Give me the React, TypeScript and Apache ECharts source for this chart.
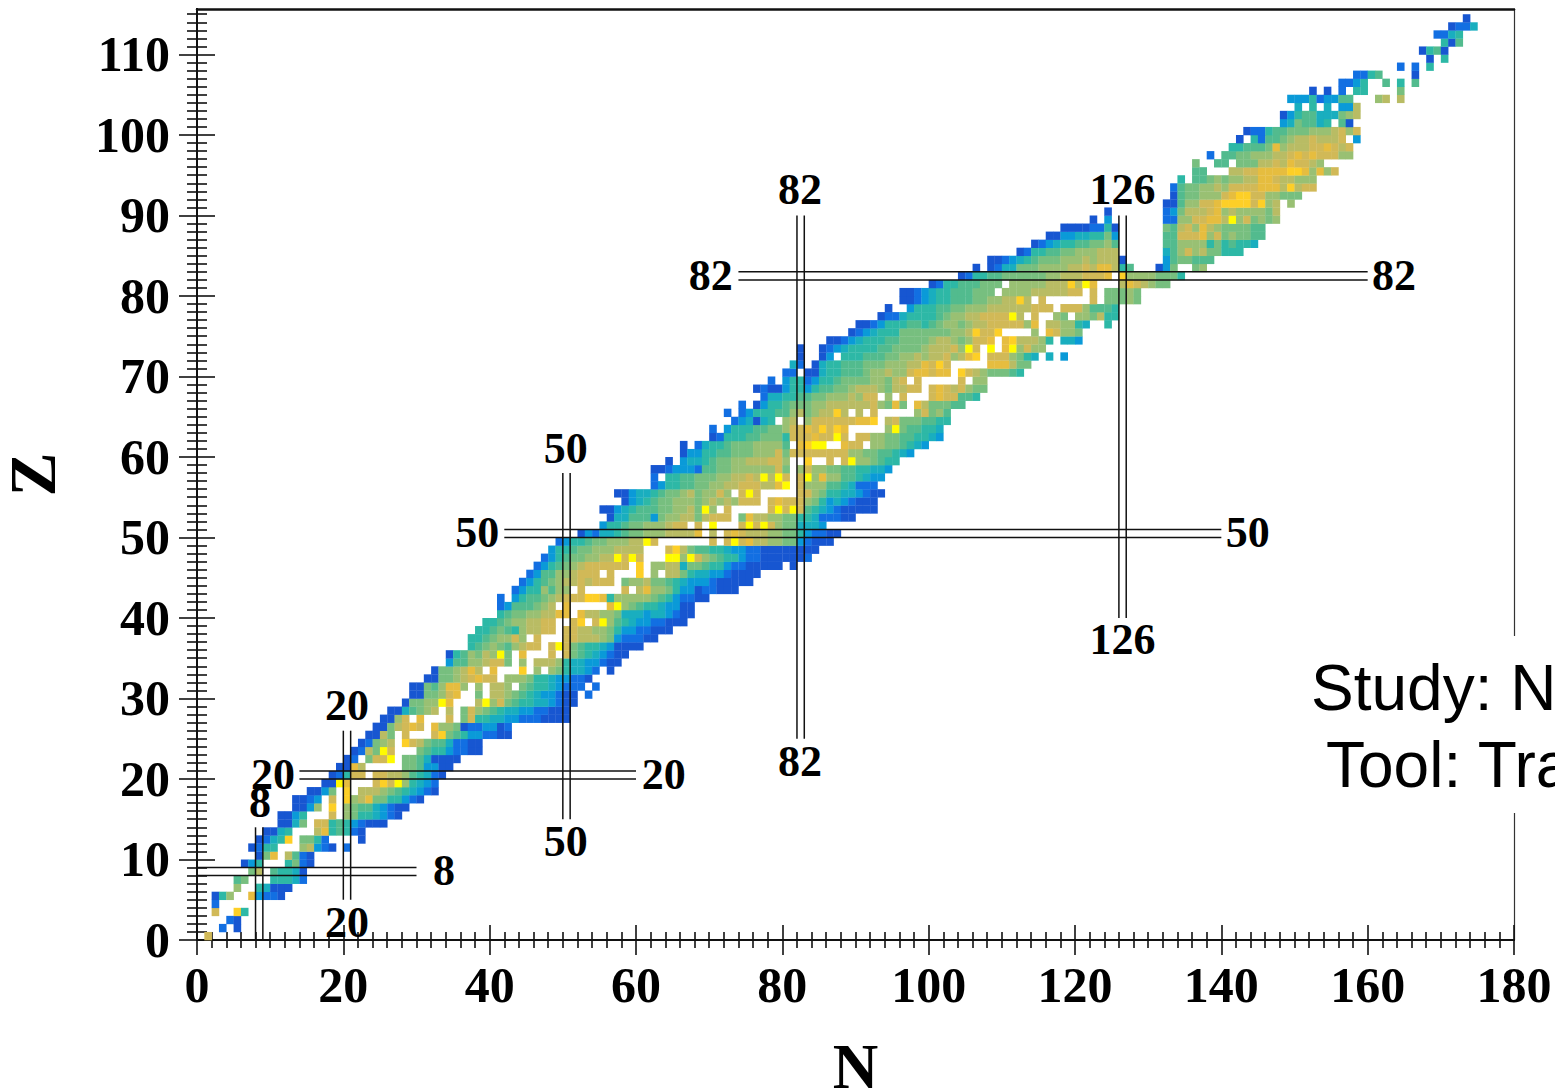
import React, { useEffect, useRef } from "react";
import * as echarts from "echarts";

// Colour levels of the picture, low (a) to high (m); "." is an empty cell.
const levelKeys = "abcdefghijklm";
const levelColors = [
  "#1756d1", "#126fe2", "#0a9ad8", "#19aebf", "#2db8a6", "#52bb8e", "#77bf7f",
  "#99c073", "#b9bc64", "#d1b957", "#e6bd3f", "#fdcf27", "#fffb00",
];

// One entry per proton number Z (index = Z): "first N:levels of N, N+1, ..."
const cellRows = [
  "1:j", "3:b.a", "4:ba", "2:j..le", "2:b", "2:aeh..kcbba", "5:h..edaaa", "5:fg...eeedb",
  "7:gi.feeda", "6:ace...egba", "8:agk.ifba", "7:abee...hicba.b", "8:abdel.ggeb....a",
  "9:aade...ikefeba", "11:aadg.jjefecbaaa", "11:aace...j.hgeedcba", "13:aach.l.hgffdcbaa",
  "13:aabc.j.lhikggeecba", "15:aacg.l.iiihgfedcba", "17:aamk...jljmhedcb", "18:abejj.jjiihfedba",
  "19:aaki.....ggfccaa", "20:ab.gjjm.ggfdaaaa", "21:abigmj...gfeecbbaa", "22:abghi.ljigffdbbaa",
  "23:aaig.j...jlgfeccbbaa", "24:aagijkj.khhgabbccab", "25:aahj.k...j.gjeeddccbbbaaaa",
  "26:aadfghi.i.gjhgfeddccbbaaa", "28:agghhmk...imhjgfeeddcbaa", "29:aagghjk..g.iihgfedccbaa.b",
  "29:aagfhkkh.h.iih.gfeedcbbb.b", "31:aagghijkjj.hhhgeedccbba", "32:agghiki.k...l.h.hgeddcb.a",
  "34:cffhhijjg.h.iiiheddccbaa", "34:aefhgihmg.k...j.jgfedcbaa", "37:efghgfhijj.jmjgfeedcaaaa",
  "37:eefghhjh.j...jjiiihgcbbbaa", "38:eefgfehiijj.jjiihhgeccbbaaa", "39:eefghhiijj..jl.jmhfedccbbaaa",
  "41:efgghhiikk.kiihhgdddcddcbaa", "41:bcfffghi.k.....kmhgfeedccaa", "41:b.ceffghijjjllkehhhhhgfecbbaa",
  "43:bceehfhh.j.....j.ikhhgeccabbaaa", "44:bcefghiijijjj.ghhiggfedcccbaaaaa",
  "45:bcffhhijjj.j...l.h.iigeddccbaaaa", "46:bcefghijjjjjj.l.hhiidggfeecbbaaaaa.a",
  "47:bcefgghhiimjmj...mmhmjhgfeecbbaaaaaab", "48:ceefgghhhiiii...jligffeedccbbaaaaaaaa",
  "49:bceefgghhhiimj.......j.jmjkiihhggcbaaa", "52:acbddefgghhhiiiik.i.jkjiiihhggecbbaa",
  "55:ceefgghhhijj.j.m...jmjmjhggdddc", "56:addfffcghhiigijjj.gkiihhggeedbbbaa",
  "55:aacdefffgghhigmh.j.....jmjmjfedcbaaaaa", "58:acdefgghhhghihihjjj.jkjjjhgecdcbaaa",
  "57:aacddefgghighhjh.jmj.....jjhgeeddcbaa", "62:bceeffgghhiijjjiikm.jhhhffedbbb",
  "62:b.eeffggghhiijimimj.jmhkhhffedcc", "62:aabcccbffgghhhhhhjg.hjhhggffeeddc",
  "64:a.cddefgghhiiijjh..l..j.jmhhgfee", "66:acceeffggghhhjgjjjjjjjjhhggffedc",
  "66:a.bdeefggghhhhf.klmm..kjj.hhggfedc", "70:abeeeffgggejjjkjjmj.jjhhggffeedc",
  "70:b.ceeeffgghjjkjljlk.....hmgffeed", "73:bcdade.hi.hjjjjjjkkl.ijgggffee",
  "72:b.bceeeffhighiili.i.j.....hjghf", "74:b.aceefggghhiiiiiijhgkg.kigggff",
  "77:bddeeffgghhhihjj.h.j...jkjjffe", "76:abaaceeceffgghiiihgiijj.jkjijhgg",
  "78:b.ceebceefgggghhgij.j.....j.hh", "80:bb.aadeefffghhihhjkkjkk.ljihgggfe",
  "81:db.adeefffggghhhiikjlj.....kkkigg", "82:a..ac.eeefffgghhihiijhikl.jjjhged.d.c",
  "82:a..abcdeeeeffgggghiiijhmj.m.kmhjhh", "86:aabcdeeeffgggghiihghjjk.kliiihe.ddc",
  "89:abcdeeeggggggghhiljjl....h.kjhhg", "90:aabceeeffefghhghiijjjjjhk.iihhed..e",
  "93:abbdeeeefghhiijjjjmi.j..hg.hhgiee", "94:a..ceeeffgghhhiiiiiijjj.jjjhfffe",
  "96:aabcdeefffgghhiili.j......j.ggghg", "96:aabcdeefffggg.hhhhiiiiijj.j.ggghg",
  "100:abeefffggg.hhhhhiiilimk...ikjihgg", "104:abeeffgggggghhiiijjjk.lhhhhggge",
  "106:a.abddggghhhhiijikkief...acg..gh", "108:aabcdefggghhhihiiia.....cfggfff",
  "112:abeeffgghhhiii......dfhjhiggeee", "114:abcdeeffgghf......ffhhhhegefeed",
  "116:aaccddeegc......ffjjjkhjghggff", "118:aaaabbea......gfijhkihggggff",
  "122:a.c.......bbhhjjkkimhjghgh", "124:a.......bcgiiijkhihhhhgi",
  "132:aafhhjjklllljlhi.h", "133:afgghhhjklljjhhggg", "133:bfgghhihjjjjkkkilijj",
  "134:e.ffghghhiikkjiihhh", "136:ff...iijjkkkkllkhkhj", "136:g..ff.gggiijikjjih",
  "138:b.ffgghhhiijkjkjjjhh", "141:eefffgkhiiijjkjij", "142:a.ebffghiijiiij.c",
  "143:abbeffggghhhijhj", "148:cdgffde.fa", "148:aceffdddghi", "150:d.e.d.cci",
  "149:cccebccff...hi.i", "152:a.a.b.ee....g", "156:bbce..f.e.f", "158:bbef....a",
  "164:b.b.e", "168:a.e", "167:aefa", "170:eaf", "169:bbde", "171:abbd", "173:a",
];

// Magic numbers: [magic N, from Z, to Z] and [magic Z, from N, to N]; each is a pair of lines.
const magicColumns = [[8, 0, 14], [20, 5, 26], [50, 15, 58], [82, 25, 90], [126, 40, 90]];
const magicRows = [[8, 0, 30], [20, 14, 60], [50, 42, 140], [82, 74, 160]];
// Labels of the magic lines: [N, Z, text]
const magicLabels: [number, number, string][] = [
  [82.4, 93.2, "82"], [70.2, 82.6, "82"], [163.6, 82.6, "82"], [82.4, 22.2, "82"],
  [126.5, 93.2, "126"], [126.5, 37.3, "126"],
  [50.4, 61.1, "50"], [38.3, 50.6, "50"], [143.6, 50.6, "50"], [50.4, 12.2, "50"],
  [20.5, 29.1, "20"], [10.4, 20.5, "20"], [63.8, 20.5, "20"], [20.5, 2.2, "20"],
  [8.6, 17.1, "8"], [33.75, 8.6, "8"],
];

const xMajorTicks = [0, 20, 40, 60, 80, 100, 120, 140, 160, 180];
const xMinorTicks = [2,4,6,8,10,12,14,16,18,22,24,26,28,30,32,34,36,38,42,44,46,48,50,52,54,56,58,62,64,66,68,70,72,74,76,78,82,84,86,88,90,92,94,96,98,102,104,106,108,110,112,114,116,118,122,124,126,128,130,132,134,136,138,142,144,146,148,150,152,154,156,158,162,164,166,168,170,172,174,176,178];
const yMajorTicks = [0, 10, 20, 30, 40, 50, 60, 70, 80, 90, 100, 110];
const yMinorTicks: number[] = [];
for (let z = 1; z <= 115; z++) if (z % 10 !== 0) yMinorTicks.push(z);

const X_MAX = 180;
const Y_MAX = 115.65;
const SERIF = '"Liberation Serif", "Times New Roman", serif';
const SANS = '"Liberation Sans", Arial, sans-serif';

const cellData: number[][] = [];
cellRows.forEach((row, z) => {
  const [start, levels] = row.split(":");
  levels.split("").forEach((ch, i) => {
    const level = levelKeys.indexOf(ch);
    if (level >= 0) cellData.push([Number(start) + i, z, level]);
  });
});

const lineData: number[][] = [];
magicColumns.forEach(([n, z0, z1]) => {
  lineData.push([n, z0, n, z1], [n + 1, z0, n + 1, z1]);
});
magicRows.forEach(([z, n0, n1]) => {
  lineData.push([n0, z, n1, z], [n0, z + 1, n1, z + 1]);
});

const tickStyle = { color: "#111", width: 1.6 };
const axisLineStyle = { show: true, onZero: false, lineStyle: { color: "#111", width: 2 } };
const baseLabel = { fontFamily: SERIF, fontWeight: "bold" as const, fontSize: 50, color: "#000" };

function xAxis(values: number[], length: number, inside: boolean, label: boolean) {
  return {
    type: "value", min: 0, max: X_MAX, position: "bottom",
    axisLine: axisLineStyle,
    axisTick: { show: true, inside, length, customValues: values, lineStyle: tickStyle },
    axisLabel: label
      ? { show: true, customValues: values, margin: 20, ...baseLabel, formatter: (v: number) => String(v), hideOverlap: false, showMinLabel: true, showMaxLabel: true }
      : { show: false },
    splitLine: { show: false },
    ...(label
      ? { name: "N", nameLocation: "middle", nameGap: 95, nameTextStyle: { fontFamily: SERIF, fontWeight: "bold", fontSize: 63, color: "#000" } }
      : {}),
  };
}
function yAxis(values: number[], length: number, inside: boolean, label: boolean) {
  return {
    type: "value", min: 0, max: Y_MAX, position: "left",
    axisLine: axisLineStyle,
    axisTick: { show: true, inside, length, customValues: values, lineStyle: tickStyle },
    axisLabel: label
      ? { show: true, customValues: values, margin: 27, ...baseLabel, formatter: (v: number) => String(v), hideOverlap: false, showMinLabel: true, showMaxLabel: true }
      : { show: false },
    splitLine: { show: false },
    ...(label
      ? { name: "Z", nameLocation: "middle", nameGap: 132, nameTextStyle: { fontFamily: SERIF, fontWeight: "bold", fontSize: 66, color: "#000" } }
      : {}),
  };
}

export default function App() {
  const ref = useRef<HTMLDivElement>(null);
  useEffect(() => {
    document.body.style.margin = "0";
    document.body.style.overflow = "hidden";
    const chart = echarts.init(ref.current!, undefined, { renderer: "svg" });
    chart.setOption({
      animation: false,
      backgroundColor: "#fff",
      grid: { left: 197, top: 9, width: 1317, height: 931, containLabel: false, outerBoundsMode: "none" },
      xAxis: [
        xAxis(xMajorTicks, 15, false, true),
        xAxis(xMajorTicks, 15, true, false),
        xAxis(xMinorTicks, 8, false, false),
        xAxis(xMinorTicks, 8, true, false),
        {
          type: "value", min: 0, max: X_MAX, position: "top",
          axisLine: { show: true, onZero: false, lineStyle: { color: "#111", width: 2.5 } },
          axisTick: { show: false }, axisLabel: { show: false }, splitLine: { show: false },
        },
      ],
      yAxis: [
        yAxis(yMajorTicks, 18, false, true),
        yAxis(yMajorTicks, 18, true, false),
        yAxis(yMinorTicks, 10, false, false),
        yAxis(yMinorTicks, 10, true, false),
        {
          type: "value", min: 0, max: Y_MAX, position: "right",
          axisLine: { show: true, onZero: false, lineStyle: { color: "#333", width: 1.2 } },
          axisTick: { show: false }, axisLabel: { show: false }, splitLine: { show: false },
        },
      ],
      series: [
        {
          type: "custom", name: "cells", z: 2, clip: false, data: cellData,
          renderItem: (_: unknown, api: any) => {
            const n = api.value(0), z = api.value(1);
            const a = api.coord([n, z]), b = api.coord([n + 1, z + 1]);
            return {
              type: "rect",
              shape: { x: a[0], y: b[1], width: b[0] - a[0] + 0.3, height: a[1] - b[1] + 0.3 },
              style: { fill: levelColors[api.value(2)] },
            };
          },
        },
        {
          type: "custom", name: "magic lines", z: 3, clip: false, data: lineData,
          renderItem: (_: unknown, api: any) => {
            const a = api.coord([api.value(0), api.value(1)]);
            const b = api.coord([api.value(2), api.value(3)]);
            return {
              type: "line",
              shape: { x1: a[0], y1: a[1], x2: b[0], y2: b[1] },
              style: { stroke: "#111", lineWidth: 1.5 },
            };
          },
        },
        {
          type: "custom", name: "magic labels", z: 4, clip: false,
          data: magicLabels.map((d) => [d[0], d[1]]),
          renderItem: (p: any, api: any) => {
            const a = api.coord([api.value(0), api.value(1)]);
            return {
              type: "text",
              style: {
                text: magicLabels[p.dataIndex][2], x: a[0], y: a[1],
                align: "center", verticalAlign: "middle",
                font: `bold 44px ${SERIF}`, fill: "#000",
              },
            };
          },
        },
      ],
      graphic: [
        { type: "rect", z: 100, shape: { x: 1300, y: 636, width: 255, height: 177 }, style: { fill: "#fff" } },
        { type: "text", z: 101, x: 1311, y: 688, style: { text: "Study: N", font: `64px ${SANS}`, fill: "#000", verticalAlign: "middle" } },
        { type: "text", z: 101, x: 1326, y: 765, style: { text: "Tool: Tra", font: `64px ${SANS}`, fill: "#000", verticalAlign: "middle" } },
      ],
    });
    return () => chart.dispose();
  }, []);
  return (
    <div style={{ position: "absolute", left: 0, top: 0, width: 1555, height: 1089, overflow: "hidden" }}>
      <div ref={ref} style={{ width: 1555, height: 1089 }} />
    </div>
  );
}
